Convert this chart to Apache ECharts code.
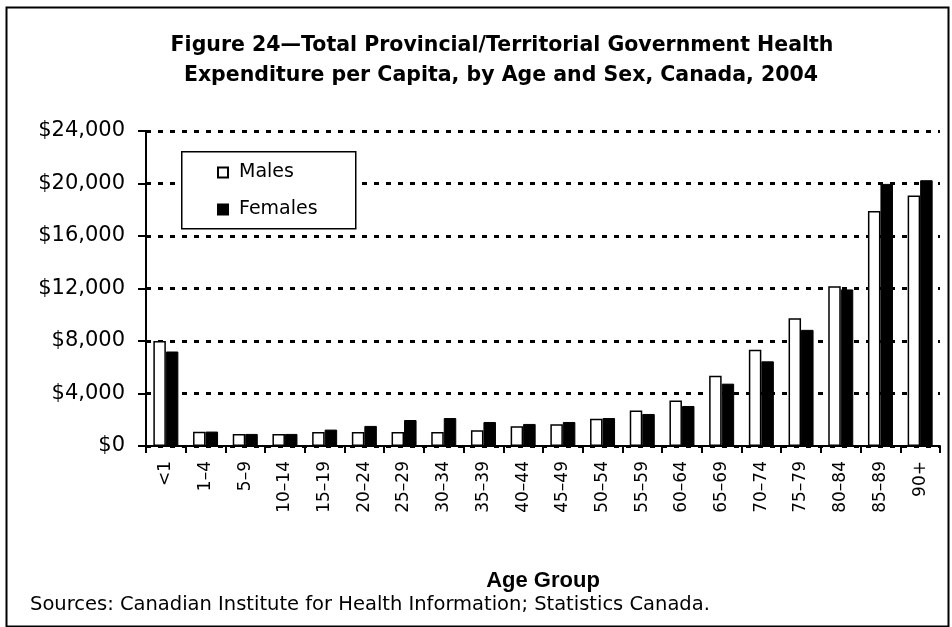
<!DOCTYPE html>
<html>
<head>
<meta charset="utf-8">
<script src="https://cdn.jsdelivr.net/npm/echarts@6/dist/echarts.min.js"></script>
<style>
html,body{margin:0;padding:0;background:#fff;}
#chart{width:952px;height:627px;}
</style>
</head>
<body>
<div id="chart"></div>
<script>
const categories = ['<1','1–4','5–9','10–14','15–19','20–24','25–29','30–34','35–39','40–44','45–49','50–54','55–59','60–64','65–69','70–74','75–79','80–84','85–89','90+'];
const males =   [8000, 1080, 920, 920, 1070, 1070, 1070, 1070, 1200, 1500, 1650, 2080, 2700, 3460, 5350, 7330, 9740, 12180, 17900, 19080];
const females = [7200, 1100, 920, 920, 1250, 1530, 1980, 2130, 1830, 1680, 1830, 2130, 2440, 3050, 4750, 6450, 8850, 11930, 19970, 20250];
const titleLines = ['Figure 24—Total Provincial/Territorial Government Health', 'Expenditure per Capita, by Age and Sex, Canada, 2004'];
const xAxisTitle = 'Age Group';
const sourceText = 'Sources: Canadian Institute for Health Information; Statistics Canada.';

const FONT = '"DejaVu Sans", "Liberation Sans", sans-serif';
const chart = echarts.init(document.getElementById('chart'), null, {renderer: 'canvas'});
chart.setOption({
  backgroundColor: '#fff',
  animation: false,
  grid: {left: 146, right: 12, top: 131, bottom: 181, containLabel: false},
  legend: {
    orient: 'vertical', left: 212, top: 158, z: 10,
    itemWidth: 10, itemHeight: 10, itemGap: 18,
    icon: 'rect',
    textStyle: {fontFamily: FONT, fontSize: 19, color: '#000', padding: [0,0,0,6]},
    data: ['Males', 'Females']
  },
  xAxis: {
    type: 'category', data: categories,
    axisLine: {lineStyle: {color: '#000', width: 2}},
    axisTick: {show: true, length: 7, lineStyle: {color: '#000', width: 2}, alignWithLabel: false},
    axisLabel: {rotate: 90, margin: 15, color: '#000', fontFamily: FONT, fontSize: 17, interval: 0},
    name: xAxisTitle, nameLocation: 'middle', nameGap: 124,
    nameTextStyle: {fontFamily: '"Liberation Sans", Arial, sans-serif', fontWeight: 'bold', fontSize: 22, color: '#000'}
  },
  yAxis: {
    type: 'value', min: 0, max: 24000, interval: 4000,
    axisLine: {show: true, lineStyle: {color: '#000', width: 2}},
    axisTick: {show: true, length: 8, lineStyle: {color: '#000', width: 2}},
    axisLabel: {margin: 21, color: '#000', fontFamily: FONT, fontSize: 21,
      formatter: v => '$' + v.toString().replace(/\B(?=(\d{3})+(?!\d))/g, ',')},
    splitLine: {show: true, lineStyle: {color: '#000', width: 3, type: [5, 7]}}
  },
  series: [
    {name: 'Males', type: 'bar', data: males, barGap: '0%', barCategoryGap: '37%',
      itemStyle: {color: '#fff', borderColor: '#000', borderWidth: 1.5}},
    {name: 'Females', type: 'bar', data: females,
      itemStyle: {color: '#000', borderColor: '#000', borderWidth: 1}}
  ],
  graphic: [
    {type: 'rect', left: 4, top: 5, shape: {width: 942, height: 619}, style: {fill: 'none', stroke: '#000', lineWidth: 2}, z: 1},
    {type: 'rect', left: 181, top: 151, shape: {width: 174, height: 77}, style: {fill: '#fff', stroke: '#000', lineWidth: 1.5}, z: 5},
    {type: 'text', x: 502, y: 46, style: {text: titleLines[0], fontFamily: FONT, fontWeight: 'bold', fontSize: 20.5, fill: '#000', textAlign: 'center', textVerticalAlign: 'middle'}},
    {type: 'text', x: 501, y: 76, style: {text: titleLines[1], fontFamily: FONT, fontWeight: 'bold', fontSize: 20.5, fill: '#000', textAlign: 'center', textVerticalAlign: 'middle'}},
    {type: 'text', x: 30, y: 605, style: {text: sourceText, fontFamily: FONT, fontSize: 19.5, fill: '#000', textAlign: 'left', textVerticalAlign: 'middle'}}
  ]
});
</script>
</body>
</html>
